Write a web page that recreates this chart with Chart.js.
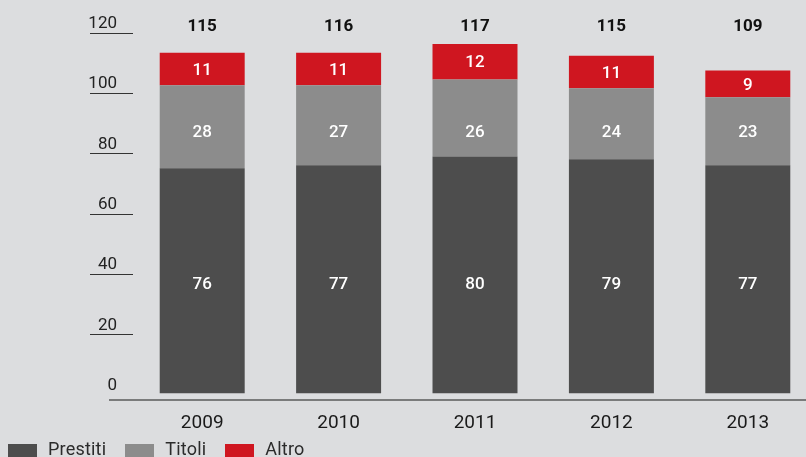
<!DOCTYPE html>
<html>
<head>
<meta charset="utf-8">
<script src="https://cdn.jsdelivr.net/npm/chart.js@4"></script>
<style>
  html, body { margin: 0; padding: 0; background: #dcdddf; overflow: hidden; }
  body { width: 806px; height: 457px; position: relative; font-family: Roboto, sans-serif; }
  #wrap { position: absolute; left: 0; top: 0; width: 816px; height: 457px; }
  #legend { position: absolute; left: 8px; top: 440px; display: flex; align-items: center; height: 18px; }
  #legend .item { display: flex; align-items: center; margin-right: 19px; }
  #legend .box { width: 29px; height: 13px; margin-right: 11px; margin-top: 3px; }
  #legend .txt { font-size: 18px; line-height: 18px; color: #2b2b2b; letter-spacing: 0.2px; }
</style>
</head>
<body>
<div id="wrap"><canvas id="chart" width="816" height="457"></canvas></div>
<div id="legend"></div>
<script>
const years = ['2009', '2010', '2011', '2012', '2013'];
const prestiti = [76, 77, 80, 79, 77];
const titoli = [28, 27, 26, 24, 23];
const altro = [11, 11, 12, 11, 9];
const totals = [115, 116, 117, 115, 109];
const yTicks = [0, 20, 40, 60, 80, 100, 120];

const seriesNames = ['Prestiti', 'Titoli', 'Altro'];
const seriesColors = ['#4d4d4d', '#8c8c8c', '#cf1620'];
// value level where each series' labels sit (null = middle of segment)
const labelLevels = [36.5, 88, null];

// legend
const legendEl = document.getElementById('legend');
seriesNames.forEach((name, i) => {
  const item = document.createElement('div');
  item.className = 'item';
  const box = document.createElement('div');
  box.className = 'box';
  box.style.background = seriesColors[i];
  const txt = document.createElement('span');
  txt.className = 'txt';
  txt.textContent = name;
  item.appendChild(box);
  item.appendChild(txt);
  legendEl.appendChild(item);
});

const decor = {
  id: 'decor',
  afterDatasetsDraw(chart) {
    const ctx = chart.ctx;
    const area = chart.chartArea;
    const x = chart.scales.x;
    const y = chart.scales.y;
    const yt = chart.scales.yt;

    ctx.save();
    // x axis line
    ctx.strokeStyle = '#5a5a5a';
    ctx.lineWidth = 1.5;
    ctx.beginPath();
    ctx.moveTo(109, area.bottom);
    ctx.lineTo(chart.width, area.bottom);
    ctx.stroke();

    // y tick labels with underline
    ctx.fillStyle = '#222';
    ctx.font = '17px Roboto';
    ctx.textAlign = 'right';
    ctx.textBaseline = 'alphabetic';
    ctx.strokeStyle = '#333';
    ctx.lineWidth = 1;
    yTicks.forEach(v => {
      const py = yt.getPixelForValue(v);
      ctx.fillText(String(v), 117, py - 4.5);
      if (v !== 0) {
        ctx.beginPath();
        ctx.moveTo(90, Math.round(py) + 0.5);
        ctx.lineTo(133, Math.round(py) + 0.5);
        ctx.stroke();
      }
    });

    // values inside segments
    ctx.textAlign = 'center';
    ctx.textBaseline = 'middle';
    ctx.fillStyle = '#ffffff';
    ctx.font = '500 17px Roboto';
    chart.data.datasets.forEach((ds, di) => {
      const meta = chart.getDatasetMeta(di);
      meta.data.forEach((bar, i) => {
        const lvl = labelLevels[di];
        const cy = lvl === null ? (bar.y + bar.base) / 2 + 1.5 : y.getPixelForValue(lvl);
        ctx.fillText(String(ds.data[i]), bar.x, cy);
      });
    });

    // totals above
    ctx.fillStyle = '#111';
    ctx.font = 'bold 17px Roboto';
    totals.forEach((t, i) => {
      ctx.fillText(String(t), x.getPixelForValue(i), area.top - 11);
    });
    ctx.restore();
  }
};

new Chart(document.getElementById('chart'), {
  type: 'bar',
  data: {
    labels: years,
    datasets: [
      { label: seriesNames[0], data: prestiti, backgroundColor: seriesColors[0] },
      { label: seriesNames[1], data: titoli, backgroundColor: seriesColors[1] },
      { label: seriesNames[2], data: altro, backgroundColor: seriesColors[2] }
    ]
  },
  options: {
    responsive: false,
    animation: false,
    layout: { padding: { left: 134, top: 38, right: 0, bottom: 0 } },
    datasets: { bar: { categoryPercentage: 1, barPercentage: 0.623 } },
    plugins: { legend: { display: false }, tooltip: { enabled: false } },
    scales: {
      x: {
        stacked: true,
        grid: { display: false },
        border: { display: false },
        ticks: { color: '#1a1a1a', font: { family: 'Roboto', size: 19 }, padding: 4 },
        afterFit(scale) { scale.height = 57; }
      },
      y: {
        stacked: true,
        display: false,
        min: -2.3,
        max: 120
      },
      yt: {
        display: false,
        min: -1.79,
        max: 118.23
      }
    }
  },
  plugins: [decor]
});
</script>
</body>
</html>
